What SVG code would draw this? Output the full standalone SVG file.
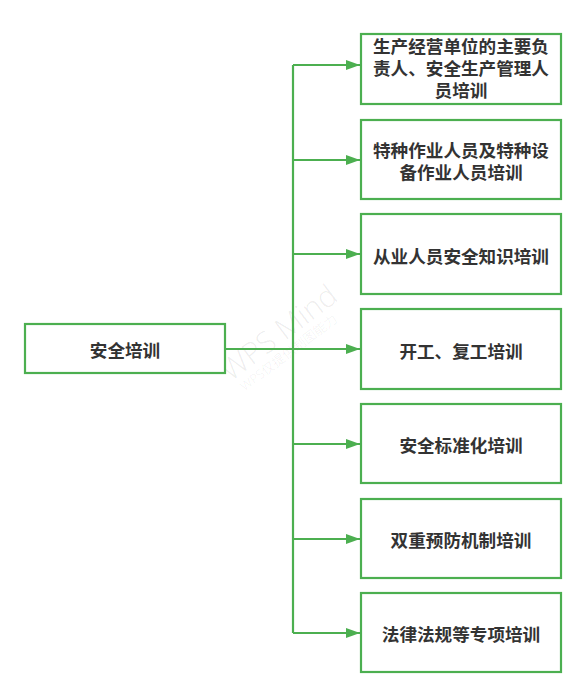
<svg xmlns="http://www.w3.org/2000/svg" width="586" height="698" viewBox="0 0 586 698">
<style>
.box{fill:#ffffff;stroke:#4CAF50;stroke-width:2.2}
.lbl{font-family:"Noto Sans CJK SC","Noto Sans",sans-serif;font-weight:bold;font-size:17.6px;fill:#333333;text-anchor:middle;dominant-baseline:central}
.con{fill:none;stroke:#4CAF50;stroke-width:2.2}
.wm{font-family:"Open Sans","Noto Sans CJK SC",sans-serif;font-weight:300;fill:#000000;fill-opacity:0.08;text-anchor:middle}
</style>
<defs>
<marker id="arr" markerUnits="userSpaceOnUse" markerWidth="14" markerHeight="10" refX="14" refY="5" orient="auto">
<path d="M0,0 L14,5 L0,10 Z" fill="#4CAF50"/>
</marker>
</defs>
<rect width="586" height="698" fill="#ffffff"/>
<g id="watermark" transform="translate(279,333) rotate(-37)">
<text class="wm" x="0" y="10" font-size="30">WPS Mind</text>
<text class="wm" x="-4" y="26" font-size="13">WPS仅提供制图能力</text>
</g>
<g id="connectors">
<path class="con" d="M225,349 H293"/>
<path class="con" d="M293,65 V633"/>
<path class="con" d="M293,65 H360" marker-end="url(#arr)"/>
<path class="con" d="M293,160 H360" marker-end="url(#arr)"/>
<path class="con" d="M293,254 H360" marker-end="url(#arr)"/>
<path class="con" d="M293,349 H360" marker-end="url(#arr)"/>
<path class="con" d="M293,444 H360" marker-end="url(#arr)"/>
<path class="con" d="M293,539 H360" marker-end="url(#arr)"/>
<path class="con" d="M293,633 H360" marker-end="url(#arr)"/>
</g>
<g id="root">
<rect class="box" x="25" y="324" width="200" height="49"/>
<text class="lbl" x="125" y="349">安全培训</text>
</g>
<g id="n1">
<rect class="box" x="361" y="34" width="200" height="70"/>
<text class="lbl"><tspan x="461" y="45">生产经营单位的主要负</tspan><tspan x="461" y="67">责人、安全生产管理人</tspan><tspan x="461" y="89">员培训</tspan></text>
</g>
<g id="n2">
<rect class="box" x="361" y="120" width="200" height="79"/>
<text class="lbl"><tspan x="461" y="149">特种作业人员及特种设</tspan><tspan x="461" y="171">备作业人员培训</tspan></text>
</g>
<g id="n3">
<rect class="box" x="361" y="214" width="200" height="80"/>
<text class="lbl" x="461" y="255">从业人员安全知识培训</text>
</g>
<g id="n4">
<rect class="box" x="361" y="309" width="200" height="80"/>
<text class="lbl" x="461" y="350">开工、复工培训</text>
</g>
<g id="n5">
<rect class="box" x="361" y="404" width="200" height="79"/>
<text class="lbl" x="461" y="444">安全标准化培训</text>
</g>
<g id="n6">
<rect class="box" x="361" y="499" width="200" height="79"/>
<text class="lbl" x="461" y="539">双重预防机制培训</text>
</g>
<g id="n7">
<rect class="box" x="361" y="593" width="200" height="79"/>
<text class="lbl" x="461" y="633">法律法规等专项培训</text>
</g>
</svg>
